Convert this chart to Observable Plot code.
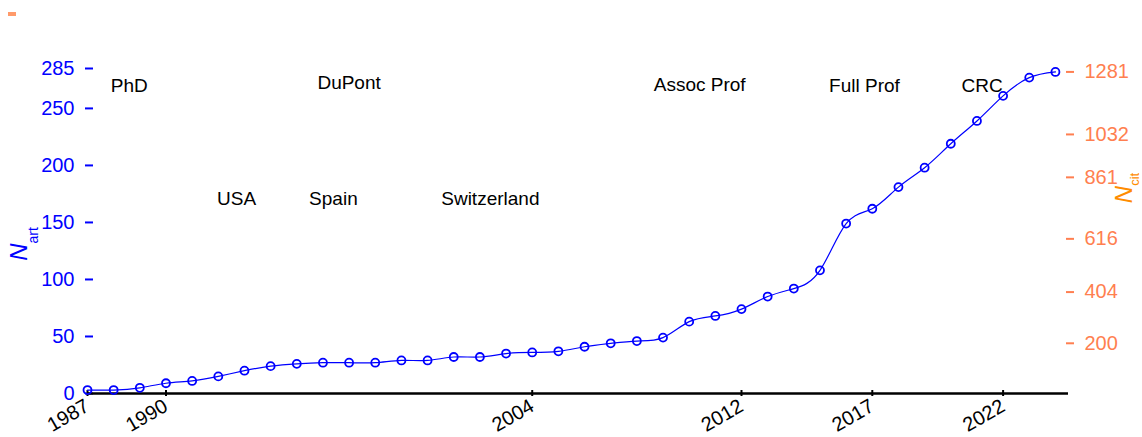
<!DOCTYPE html>
<html>
<head>
<meta charset="utf-8">
<script src="https://cdn.jsdelivr.net/npm/d3@7"></script>
<script src="https://cdn.jsdelivr.net/npm/@observablehq/plot@0.6"></script>
<style>
  body { margin: 0; background: white; }
  #wrap { position: relative; width: 1142px; height: 437px; }
  #mark { position: absolute; left: 8px; top: 12px; width: 8px; height: 4px; background: #FF9A6A; }
</style>
</head>
<body>
<div id="wrap"><div id="mark"></div></div>
<script>
const years = [1987,1988,1989,1990,1991,1992,1993,1994,1995,1996,1997,1998,1999,2000,2001,2002,2003,2004,2005,2006,2007,2008,2009,2010,2011,2012,2013,2014,2015,2016,2017,2018,2019,2020,2021,2022,2023,2024];
const nArt = [3,3,5,9,11,15,20,24,26,27,27,27,29,29,32,32,35,36,37,41,44,46,49,63,68,74,85,92,108,149,162,181,198,219,239,261,277,282];
const artTicks = [0,50,100,150,200,250,285];
const citTicks = [200,404,616,861,1032,1281];
const citMax = 1281;
const yearTicks = [1987,1990,2004,2012,2017,2022];
const annLabels = ["PhD","DuPont","Assoc Prof","Full Prof","CRC","USA","Spain","Switzerland"];
const annYears  = [1988.6,1997.0,2010.4,2016.7,2021.2,1992.7,1996.4,2002.4];
const annValues = [270,272.5,271,270,270,170.6,170.6,170.6];

const data = years.map((y,i) => ({year: y, art: nArt[i]}));
const ann = annLabels.map((t,i) => ({label: t, year: annYears[i], value: annValues[i]}));
const ratio = citMax / d3.max(nArt);

const chart = Plot.plot({
  width: 1142,
  height: 437,
  marginLeft: 87,
  marginRight: 74,
  marginTop: 68,
  marginBottom: 44,
  style: {fontFamily: "'Liberation Sans', Arial, sans-serif", fontSize: "20px", background: "white"},
  x: {domain: [1987, 2024.5]},
  y: {domain: [0, 285]},
  marks: [
    Plot.axisY(artTicks, {anchor: "left", color: "#0000FF", tickSize: 8, dx: 6, tickPadding: 11, strokeWidth: 2, fontSize: 20, label: null, tickFormat: d => String(d)}),
    Plot.axisY(citTicks.map(c => c / ratio), {anchor: "right", color: "#FF7F50", tickSize: 8, dx: -3, tickPadding: 11, strokeWidth: 2, fontSize: 20, label: null, tickFormat: d => String(Math.round(d * ratio))}),
    Plot.axisX(yearTicks, {anchor: "bottom", color: "black", tickSize: 6, dy: -3, tickPadding: 8, tickRotate: -30, strokeWidth: 2, fontSize: 20, label: null, tickFormat: d => String(d)}),
    Plot.ruleY([0], {stroke: "black", strokeWidth: 2.5}),
    Plot.line(data, {x: "year", y: "art", stroke: "#0000FF", strokeWidth: 1.2, curve: "natural"}),
    Plot.dot(data, {x: "year", y: "art", r: 4, stroke: "#0000FF", strokeWidth: 1.8, fill: "none"}),
    Plot.text(ann, {x: "year", y: "value", text: "label", fill: "black", fontSize: 19})
  ]
});

const svg = d3.select(chart);
const left = svg.append("text")
  .attr("transform", "translate(27,244) rotate(-90)")
  .attr("fill", "#0000FF")
  .attr("font-family", "'Liberation Sans', Arial, sans-serif");
left.append("tspan").attr("font-size", 24).attr("font-style", "italic").text("N");
left.append("tspan").attr("font-size", 14).attr("dy", 11).text("art");

const right = svg.append("text")
  .attr("transform", "translate(1132,188) rotate(-90)")
  .attr("fill", "#FF8C00")
  .attr("font-family", "'Liberation Sans', Arial, sans-serif");
right.append("tspan").attr("font-size", 24).attr("font-style", "italic").text("N");
right.append("tspan").attr("font-size", 13).attr("dy", 7).text("cit");

document.getElementById("wrap").appendChild(chart);
</script>
</body>
</html>
